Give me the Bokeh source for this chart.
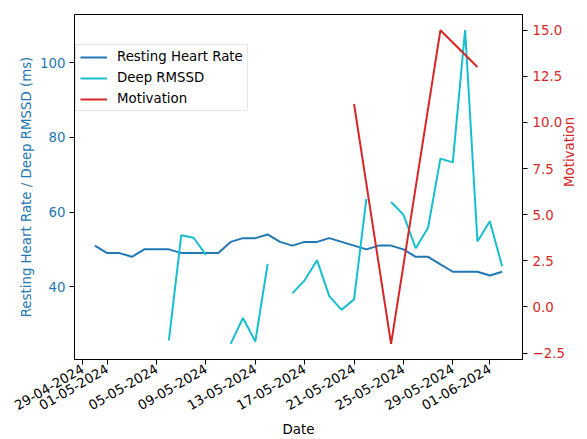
import math
import numpy as np
import pandas as pd
from bokeh.plotting import figure
from bokeh.models import (Range1d, LinearAxis, FixedTicker, DatetimeTickFormatter,
                          CustomJSTickFormatter, Legend, LegendItem)
from bokeh.embed import file_html
from bokeh.resources import INLINE

# Daily series
dates = pd.date_range("2024-04-30", "2024-06-02", freq="D")
resting_hr = [51, 49, 49, 48, 50, 50, 50, 49, 49, 49, 49, 52, 53, 53, 54, 52, 51,
              52, 52, 53, 52, 51, 50, 51, 51, 50, 48, 48, 46, 44, 44, 44, 43, 44]
nan = np.nan
deep_rmssd = [nan, nan, nan, nan, nan, nan, 25.6, 53.8, 53.1, 48.5, nan, 24.7, 31.6,
              25.3, 46.1, nan, 38.2, 41.7, 47.1, 37.4, 33.8, 36.6, 63.5, nan, 62.7,
              59.3, 50.3, 55.8, 74.3, 73.3, 108.7, 52.1, 57.5, 45.5]

# Motivation is only recorded on a few days
motivation_dates = pd.to_datetime(["2024-05-21", "2024-05-24", "2024-05-28", "2024-05-31"])
motivation = [11, -2, 15, 13]

tick_dates = pd.to_datetime(["2024-04-29", "2024-05-01", "2024-05-05", "2024-05-09",
                             "2024-05-13", "2024-05-17", "2024-05-21", "2024-05-25",
                             "2024-05-29", "2024-06-01"])
left_ticks = [40, 60, 80, 100]
right_ticks = [-2.5, 0.0, 2.5, 5.0, 7.5, 10.0, 12.5, 15.0]

BLUE = "#1f77b4"
CYAN = "#17becf"
RED = "#d62728"
FONT = "DejaVu Sans"
FS = "13.33px"

W, H = 587, 439
BL, BR, BT, BB = 74, 59, 14, 76


def ms(ts):
    return ts.value / 1e6


day = 86400000.0
x0 = ms(pd.Timestamp("2024-04-29"))
x_start, x_end = x0 - 0.65 * day, x0 + 35.65 * day

p = figure(width=W, height=H, output_backend="svg", toolbar_location=None,
           x_axis_type="datetime",
           x_range=Range1d(x_start, x_end),
           y_range=Range1d(20.5, 112.9),
           min_border_left=BL, min_border_right=BR, min_border_top=BT,
           min_border_bottom=BB)
p.extra_y_ranges = {"mot": Range1d(-2.85, 15.85)}
p.grid.visible = False
p.outline_line_color = "black"
p.outline_line_alpha = 1.0
p.outline_line_width = 1
p.background_fill_color = "white"
p.border_fill_color = "white"

r1 = p.line(dates, resting_hr, line_color=BLUE, line_width=2)
r2 = p.line(dates, deep_rmssd, line_color=CYAN, line_width=2)
r3 = p.line(motivation_dates, motivation, line_color=RED, line_width=2,
            y_range_name="mot")


def style_axis(ax, label_color):
    ax.major_tick_in = 0
    ax.major_tick_out = 5
    ax.minor_tick_in = 0
    ax.minor_tick_out = 0
    ax.axis_line_color = "black"
    ax.major_tick_line_color = "black"
    ax.major_label_text_font = FONT
    ax.major_label_text_font_size = FS
    ax.major_label_text_color = label_color
    ax.axis_label_text_font = FONT
    ax.axis_label_text_font_size = FS
    ax.axis_label_text_font_style = "normal"
    ax.axis_label_text_color = label_color
    ax.major_label_standoff = 4


# Bottom date axis
xa = p.xaxis[0]
style_axis(xa, "black")
xa.axis_label = "Date"
xa.ticker = FixedTicker(ticks=[ms(t) for t in tick_dates])
fmt = "%d-%m-%Y"
xa.formatter = DatetimeTickFormatter(days=fmt, months=fmt, years=fmt, hours=fmt,
                                     hourmin=fmt, minutes=fmt, minsec=fmt,
                                     seconds=fmt, milliseconds=fmt, microseconds=fmt)
xa.major_label_orientation = math.radians(30)
xa.major_label_standoff = 3
xa.axis_label_standoff = 4

# Left axis
ya = p.yaxis[0]
style_axis(ya, BLUE)
ya.axis_label = "Resting Heart Rate / Deep RMSSD (ms)"
ya.ticker = FixedTicker(ticks=left_ticks)
ya.axis_label_standoff = 3

# Right axis for motivation
ra = LinearAxis(y_range_name="mot")
style_axis(ra, RED)
ra.ticker = FixedTicker(ticks=right_ticks)
ra.formatter = CustomJSTickFormatter(code="return tick.toFixed(1).replace('-', '\u2212');")
ra.major_label_standoff = 5
p.add_layout(ra, "right")

# Title-only axis beyond it, so "Motivation" reads bottom to top
ra_title = LinearAxis(y_range_name="mot", axis_label="Motivation")
style_axis(ra_title, RED)
ra_title.ticker = FixedTicker(ticks=[])
ra_title.axis_line_color = None
ra_title.major_tick_out = 0
ra_title.major_label_standoff = 0
ra_title.axis_label_standoff = 2
ra_title.axis_label_orientation = math.pi / 2
p.add_layout(ra_title, "right")

legend = Legend(items=[LegendItem(label="Resting Heart Rate", renderers=[r1]),
                       LegendItem(label="Deep RMSSD", renderers=[r2]),
                       LegendItem(label="Motivation", renderers=[r3])],
                location=(1, 248))
legend.label_text_font = FONT
legend.label_text_font_size = FS
legend.label_text_color = "black"
legend.glyph_width = 27
legend.glyph_height = 14
legend.label_height = 14
legend.label_standoff = 10
legend.spacing = 6
legend.padding = 4
legend.margin = 0
legend.border_line_color = "#cccccc"
legend.border_line_width = 1
legend.background_fill_color = "white"
legend.background_fill_alpha = 0.8
p.add_layout(legend, "center")

open("out.html", "w").write(file_html(p, INLINE))
